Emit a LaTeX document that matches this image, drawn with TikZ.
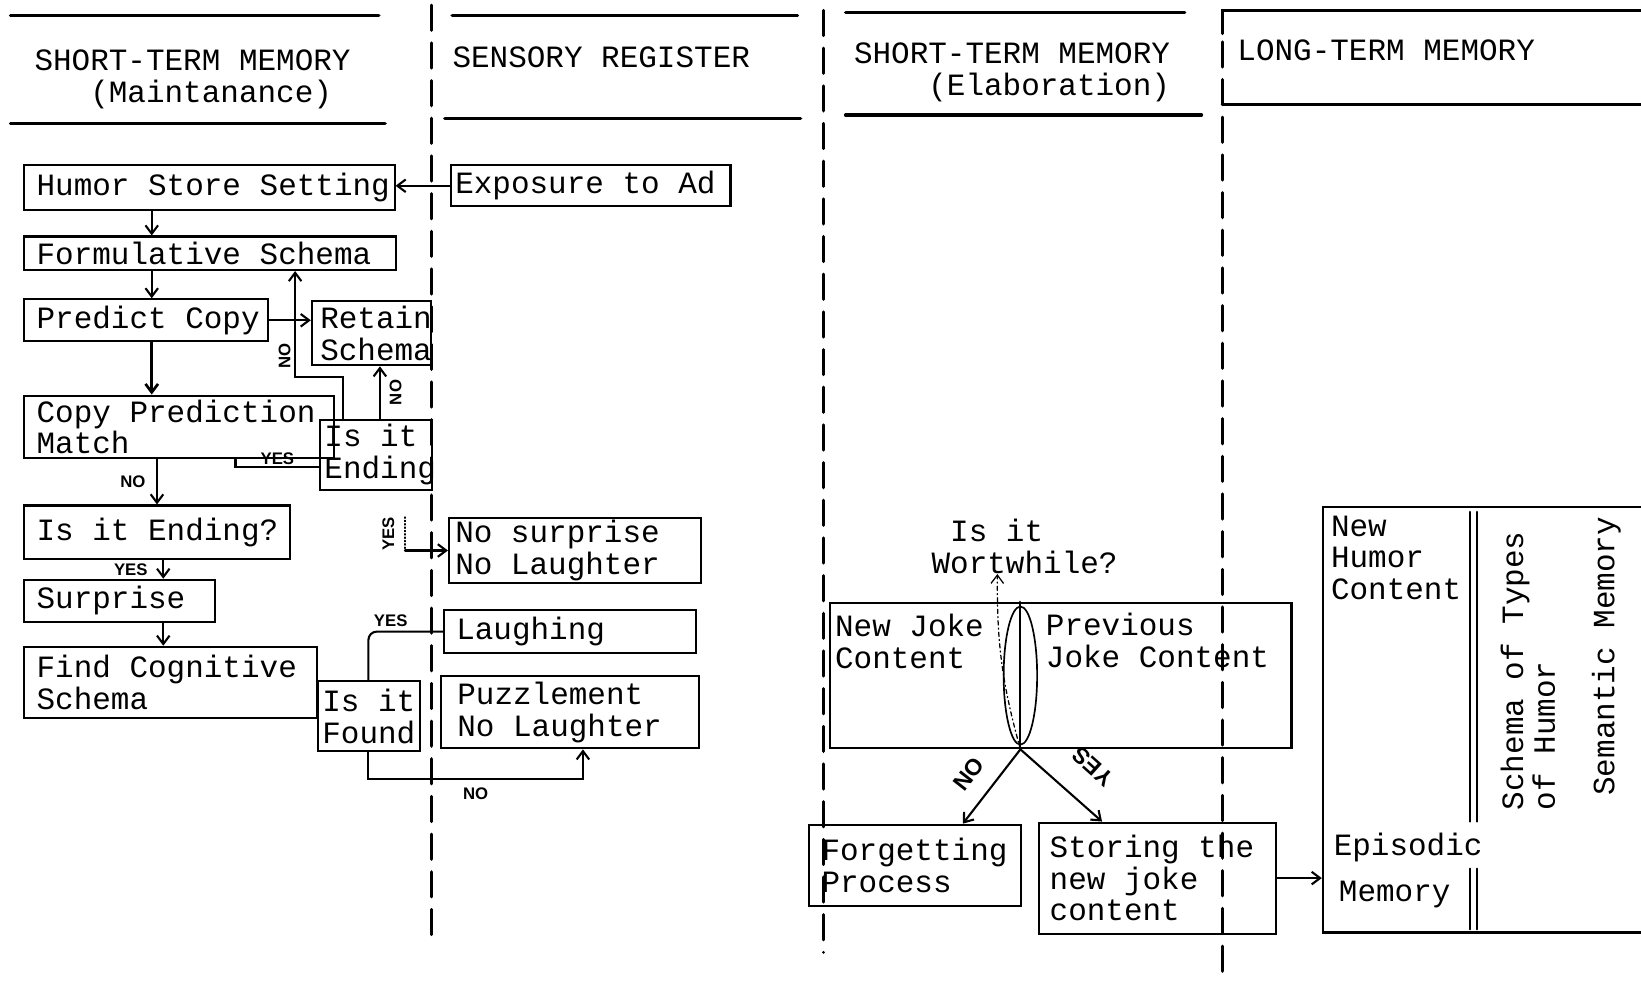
\documentclass[tikz,border=0pt]{standalone}
\usepackage{fontspec}
\usetikzlibrary{arrows.meta,calc}
\newfontfamily\twfont{Liberation Mono}
\newfontfamily\lbfont{Liberation Sans}
\newcommand\tw{\twfont\fontsize{14.8}{15.2}\selectfont}
\newcommand\lb{\lbfont\bfseries\fontsize{8}{9}\selectfont}
\newcommand\lbb{\lbfont\bfseries\fontsize{11}{12}\selectfont}

\begin{document}
\begin{tikzpicture}[x=0.5pt, y=-0.5pt, line cap=round,
  lpad/.style={execute at begin node={\spaceskip=0.6em\relax\leftskip=#1\relax}},
  box/.style 2 args={draw, line width=1pt, anchor=north west, align=left, inner xsep=1pt, inner ysep=0pt, text width=#1, minimum height=#2, font=\tw, lpad=5pt},
  arr/.style={-{Straight Barb[length=4pt,width=6pt]}, line width=1pt},
  lbl/.style={font=\lb, inner sep=1pt},
  head/.style={font=\tw, inner sep=0pt, align=left},
  divider/.style={line width=1.5pt, dash pattern=on 12pt off 6pt},
  rule/.style={line width=1.6pt}]

\useasboundingbox (0,0) rectangle (1568,950);
\clip (0,0) rectangle (1568,950);

% column dividers
\draw[divider] (412,5) -- (412,895);
\draw[divider] (787,10) -- (787,910);
\draw[divider] (1168,40) -- (1168,935);

% headings
\draw[rule] (10,15) -- (362,15);
\draw[rule] (10,118) -- (368,118);
\draw[rule] (432,15) -- (762,15);
\draw[rule] (425,113) -- (765,113);
\draw[rule] (808,12) -- (1132,12);
\draw[rule] (808,110) -- (1148,110);
\draw[rule] (1168,32) -- (1168,10) -- (1568,10);
\draw[rule] (1168,100) -- (1568,100);
\node[head] (stm1) at (184,76) {SHORT-TERM MEMORY\\\hspace*{1.8em}(Maintanance)};
\node[head, anchor=west] (sreg) at (432,55) {SENSORY REGISTER};
\node[head] (stm2) at (967,69) {SHORT-TERM MEMORY\\\hspace*{2.4em}(Elaboration)};
\node[head, anchor=west] (ltmh) at (1182,48) {LONG-TERM MEMORY};

% maintenance loop
\node[box={175pt}{21.5pt}] (hss) at (22,157) {Humor Store Setting};
\node[box={131.5pt}{19.5pt}, lpad=1pt] (ead) at (430,157) {Exposure to Ad};
\node[box={175.5pt}{16pt}] (fs) at (22,225) {Formulative Schema};
\node[box={114.5pt}{20pt}] (pc) at (22,285) {Predict Copy};
\node[box={55pt}{30.5pt}, lpad=3pt] (rs) at (297,287) {Retain\\Schema};
\node[box={146pt}{30pt}] (cpm) at (22,377) {Copy Prediction\\Match};
\node[box={51.5pt}{33.5pt}, lpad=1pt] (ie) at (305,400) {Is it\\Ending};
\node[box={125pt}{25.5pt}] (ie2) at (22,482) {Is it Ending?};
\node[box={89pt}{20pt}] (sur) at (22,553) {Surprise};
\node[box={138pt}{34pt}] (fcs) at (22,617) {Find Cognitive\\Schema};
\node[box={46.5pt}{33.5pt}, lpad=1pt] (iif) at (303,650) {Is it\\Found};
\node[box={118.5pt}{31pt}, lpad=2pt] (ns) at (428,494) {No surprise\\No Laughter};
\node[box={118.5pt}{20.5pt}] (la) at (423,582) {Laughing};
\node[box={121.5pt}{34.5pt}, lpad=7pt] (pz) at (420,645) {Puzzlement\\No Laughter};

\draw[arr] (ead.west) -- (ead.west -| hss.east);
\draw[arr] ([xshift=61.5pt]hss.south west) -- ([xshift=61.5pt]fs.north west);
\draw[arr] ([xshift=61.5pt]fs.south west) -- ([xshift=61.5pt]pc.north west);
\draw[arr, line width=1.3pt] ([xshift=61.5pt]pc.south west) -- ([xshift=61.5pt]cpm.north west);
\draw[arr] (pc.east) -- (pc.east -| rs.west);
\draw[arr] ([xshift=29pt]ie.north west) -- node[lbl, xshift=7.5pt, rotate=90]{NO} ([xshift=29pt]ie.north west |- rs.south);
\draw[arr] ([xshift=11.5pt]ie.north west) -- ++(0,-40) -| node[lbl, pos=0.6, xshift=-5pt, rotate=90]{NO} ([xshift=130pt]fs.south west);
\draw[line width=1pt] ([yshift=-6pt]ie.west) -| node[lbl, pos=0.25, above=0pt]{YES} ([xshift=101.5pt]cpm.south west);
\draw[arr] ([xshift=64pt]cpm.south west) -- node[lbl, left=4pt]{NO} ([xshift=64pt]ie2.north west);
\draw[arr] ([xshift=67pt]ie2.south west) -- node[lbl, left=6pt]{YES} ([xshift=67pt]sur.north west);
\draw[arr] ([xshift=67pt]sur.south west) -- ([xshift=67pt]fcs.north west);
\coordinate (yesin) at (387,494);
\draw[densely dotted, line width=0.6pt] (yesin) -- node[lbl, xshift=-8pt, rotate=90]{YES} (yesin |- ns.west);
\draw[arr] (yesin |- ns.west) -- (ns.west);
\draw[line width=1pt, rounded corners=4pt] ([xshift=24.5pt]iif.north west) |- node[lbl, pos=0.65, above=1pt]{YES} (la.west);
\draw[arr] ([xshift=24.5pt]iif.south west) -- ++(0,25) -| node[lbl, pos=0.25, below=3pt]{NO} ([xshift=68.5pt]pz.south west);

% elaboration
\node[head] (worth) at (979,522) {\hspace*{0.6em}Is it\\Wortwhile?};
\node[box={218.5pt}{69.5pt}] (jc) at (792,575) {};
\node[head] (njc) at (869,613) {New Joke\\Content};
\node[head] (pjc) at (1106,612) {Previous\\Joke Content};
\coordinate (lt) at ([xshift=91.5pt]jc.north west);
\coordinate (lb) at ([xshift=91.5pt]jc.south west);
\draw[line width=1pt] (lt) -- (lb);
\draw[line width=0.8pt] ($(lt)!0.5!(lb)$) ellipse [x radius=8pt, y radius=33pt];
\draw[arr, line width=0.6pt, dash pattern=on 2pt off 1.5pt on 0.5pt off 1.5pt] (lb) to[bend left=8] ([xshift=-13pt]worth.south);
\node[box={99.5pt}{39pt}] (fp) at (772,787) {Forgetting\\Process};
\node[box={111pt}{53pt}, lpad=4pt] (st) at (992,785) {Storing the\\new joke\\content};
\draw[arr] (lb) -- node[font=\lbb, inner sep=0pt, xshift=-11pt, yshift=6pt, rotate=52]{NO} ([xshift=74pt]fp.north west);
\draw[arr] (lb) -- node[font=\lbb, inner sep=0pt, xshift=15pt, yshift=9pt, rotate=138]{YES} ([xshift=30.5pt]st.north west);

% long-term memory
\node[box={167pt}{203.5pt}] (ltm) at (1263,483) {};
\draw[arr] (st.east) -- (st.east -| ltm.west);
\draw[line width=1pt] (1405,489) -- (1405,785) (1411,489) -- (1411,785);
\draw[line width=1pt] (1405,830) -- (1405,888) (1411,830) -- (1411,888);
\node[head] (nhc) at (1334,533) {New\\Humor\\Content};
\node[head, anchor=west] (epi) at (1274,810) {Episodic};
\node[head, anchor=west] (mem) at (1279,855) {Memory};
\node[head, rotate=90] (sth) at (1460,641) {Schema of Types\\of Humor};
\node[head, rotate=90] (sem) at (1535,627) {Semantic Memory};
\end{tikzpicture}
\end{document}
